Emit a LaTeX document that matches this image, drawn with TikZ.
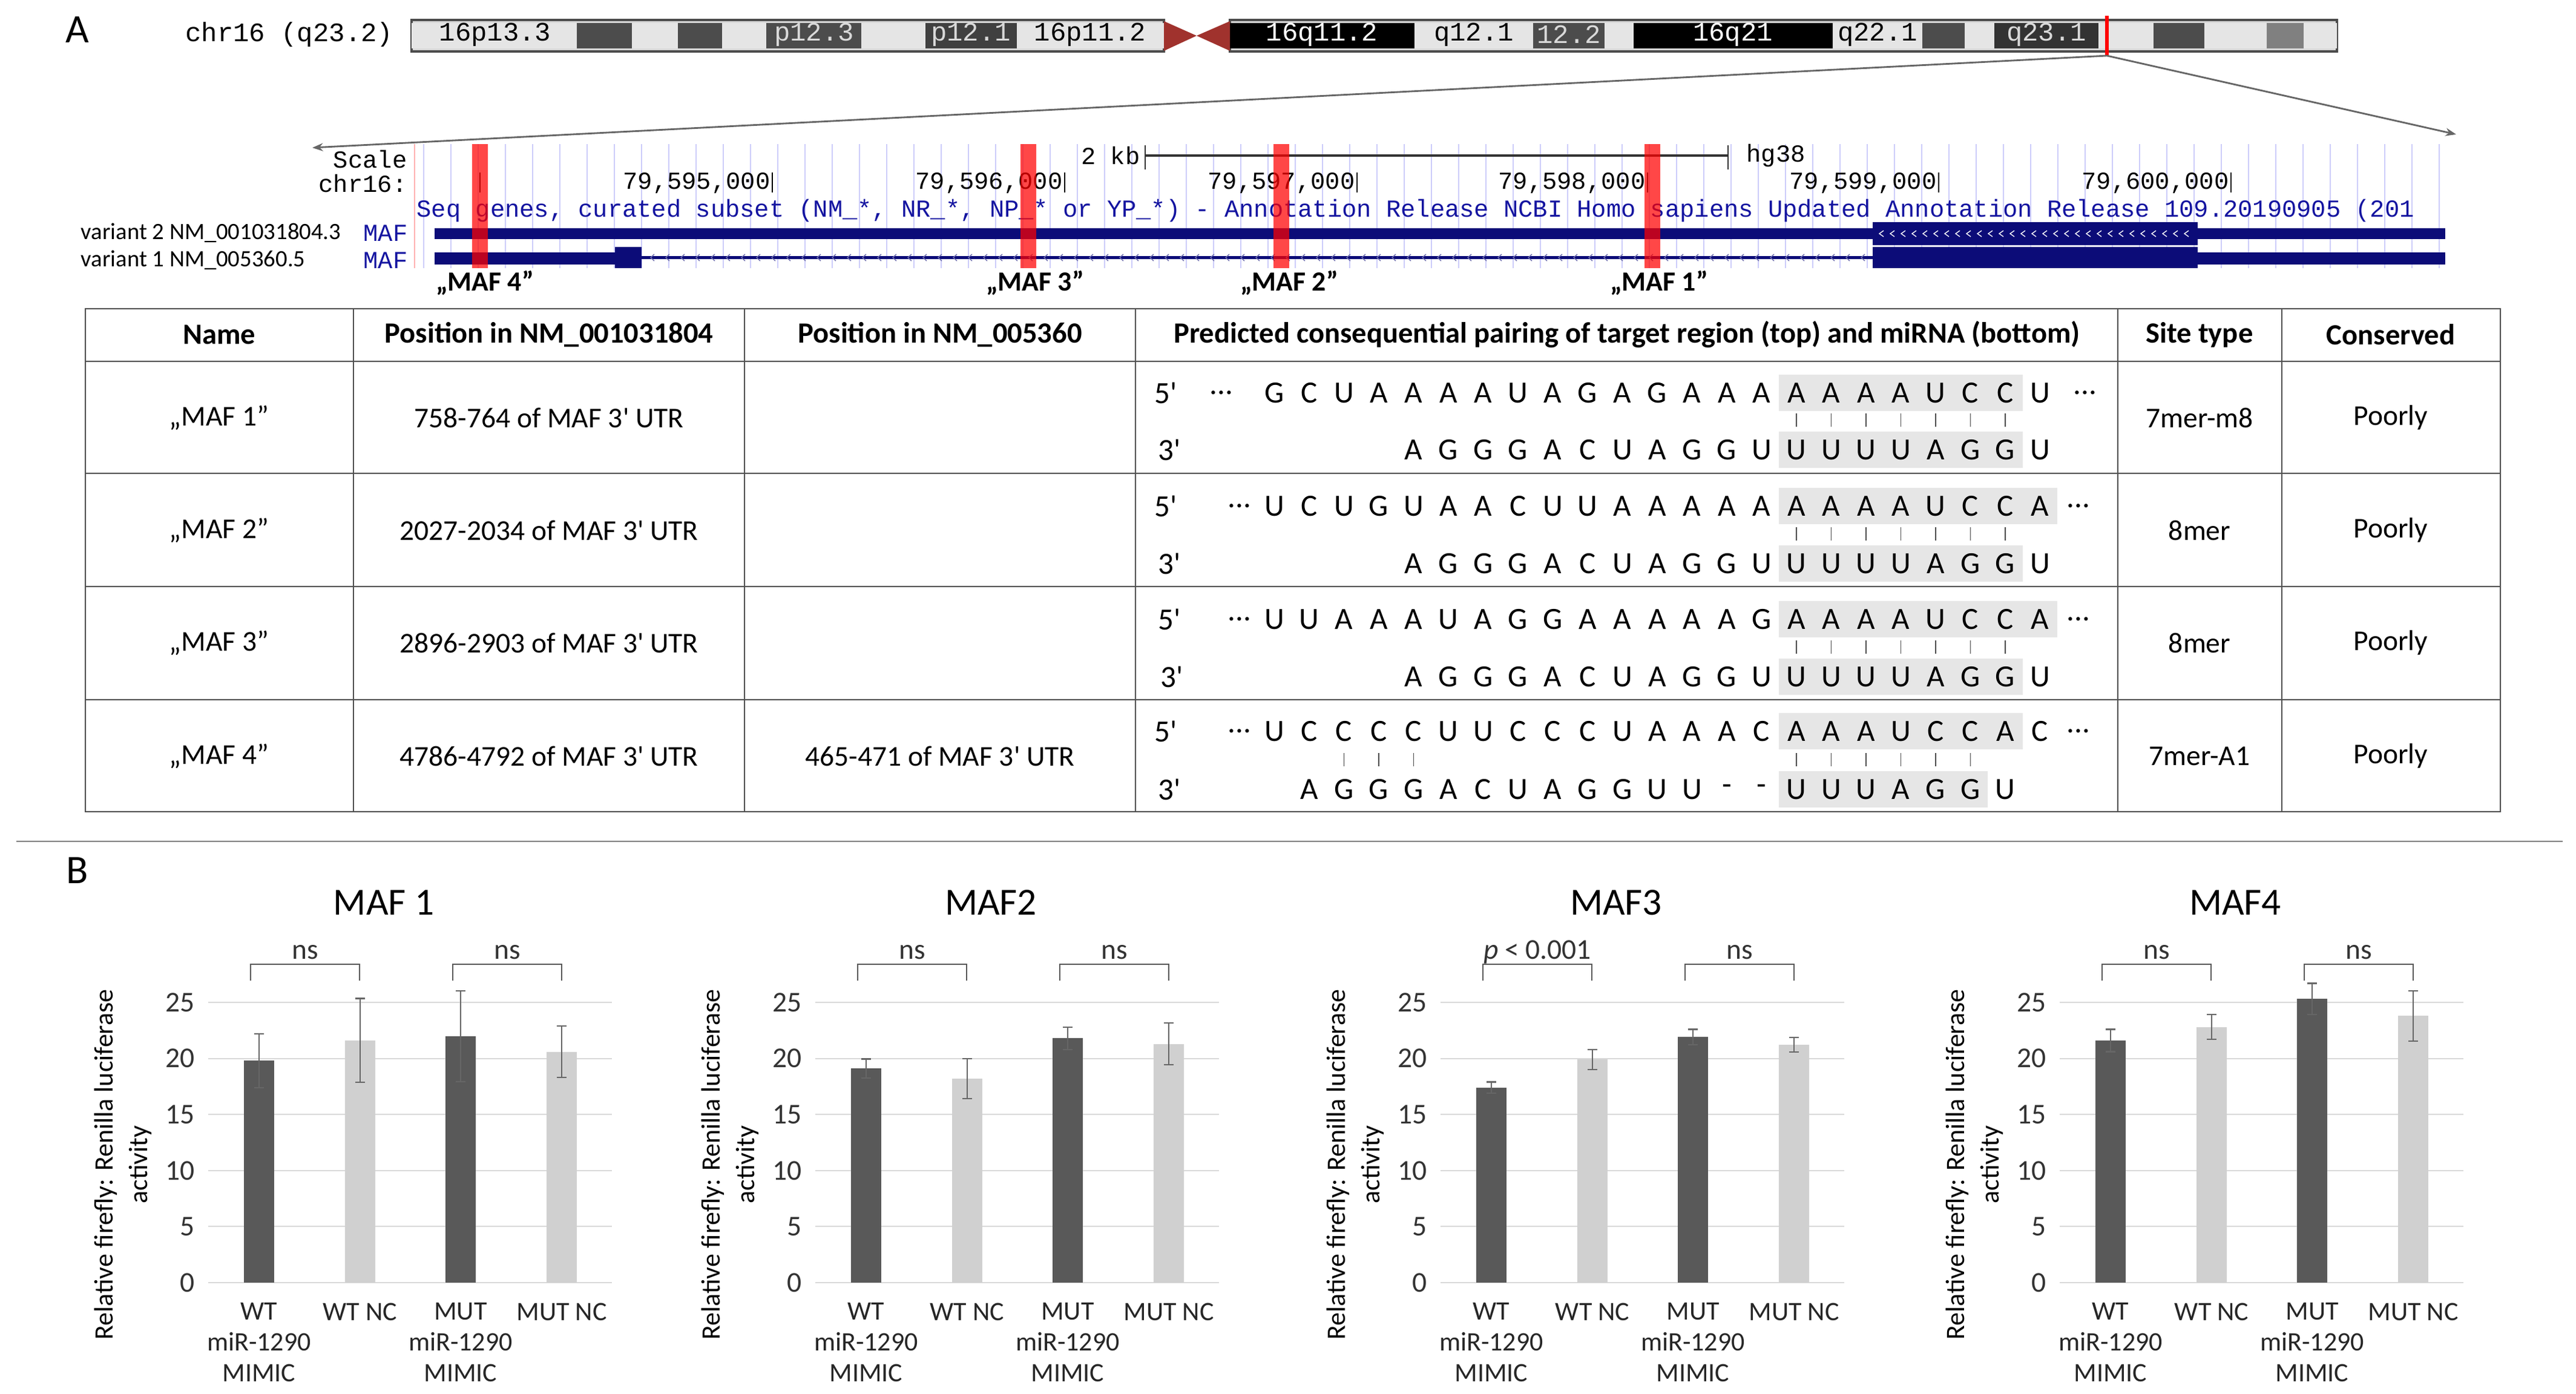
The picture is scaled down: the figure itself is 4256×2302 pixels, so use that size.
\documentclass[tikz,border=0pt]{standalone}
\usepackage{fontspec}
\setmainfont{Carlito}
\newfontfamily\ucsc{Liberation Mono}
\usetikzlibrary{arrows.meta}
\definecolor{navyb}{RGB}{12,12,120}
\definecolor{ucblue}{RGB}{20,20,160}
\definecolor{gridb}{RGB}{205,205,250}
\definecolor{bardark}{RGB}{89,89,89}
\definecolor{barlight}{RGB}{208,208,208}
\definecolor{gline}{RGB}{217,217,217}
\definecolor{tabline}{RGB}{80,80,80}
\definecolor{hlc}{RGB}{230,230,230}
\definecolor{centro}{RGB}{160,50,45}
\newcommand\fsz[1]{\fontsize{#1}{#1}\selectfont}
\newcommand\pr{\textquotesingle}
\newcommand\seqlet[3]{\foreach \ch [count=\i from 0] in {#3} {\node[seqc] at ({2968+57.5*(#2+\i)},#1) {\ch};}}
\newcommand\seqbars[2]{\foreach \c in {#2} {\draw[pairc] ({2968+57.5*\c},#1-11) -- ++(0,22);}}
\newcommand\hlbox[2]{\fill[hlc] ({2968-28.75},#1-30) rectangle ({2968+57.5*(#2-0.5)},#1+30);}
\tikzset{
  seqc/.style={inner sep=0pt,font=\fsz{14.5}},
  pairc/.style={draw=black!70,line width=0.5pt},
  tab/.style={draw=tabline,line width=0.7pt},
  cell/.style={inner sep=0pt,font=\fsz{13.5},align=center},
  hdr/.style={inner sep=0pt,font=\fsz{13.8}\bfseries},
  band/.style={inner sep=0pt,font=\ucsc\fsz{12.5}},
  brow/.style={inner sep=0pt,font=\ucsc\fsz{11.5}},
  grd/.style={draw=gline,line width=0.6pt},
  tickl/.style={inner sep=0pt,anchor=east,font=\fsz{13.5},text=black!80},
  err/.style={draw=black!60,line width=0.6pt},
  brk/.style={draw=black!65,line width=0.6pt},
  xl/.style={inner sep=0pt,anchor=north,align=center,font=\fontsize{12.5}{14.5}\selectfont,text=black!85},
}
\begin{document}
\begin{tikzpicture}[x=0.01cm,y=-0.01cm]
\useasboundingbox (0,0) rectangle (4256,2302);
\fill[white] (0,0) rectangle (4256,2302);
% ---------- A label
\node[font=\fsz{19}] (labA) at (128,49) {A};
\node[band,anchor=east] (chrlab) at (650,57) {chr16 (q23.2)};
% ---------- ideogram
\draw[black!70,line width=1.2pt,fill=black!15] (680,33) rectangle (1923,85);
\draw[black!70,line width=1.2pt,fill=black!15] (2032,33) rectangle (3861,85);
\foreach \a/\b/\c in {680/953/black!10,953/1044/black!70,1044/1120/black!10,1120/1193/black!70,1193/1266/black!10,1266/1423/black!70,1423/1529/black!10,1529/1680/black!75,1680/1923/black!10,2032/2337/black,2337/2533/black!10,2533/2651/black!70,2651/2699/black!10,2699/3028/black,3028/3176/black!10,3176/3246/black!70,3246/3295/black!10,3295/3467/black!80,3467/3558/black!10,3558/3642/black!70,3642/3745/black!10,3745/3806/black!50,3806/3861/black!10}
  {\fill[\c] (\a,38) rectangle (\b,80);}
\fill[centro] (1923,35) -- (1977,59) -- (1923,84) -- cycle;
\fill[centro] (2032,35) -- (1977,59) -- (2032,84) -- cycle;
\node[band] at (818,57) {16p13.3};
\node[band,text=white!85!black] at (1345,57) {p12.3};
\node[band,text=white!85!black] at (1604,57) {p12.1};
\node[band] at (1801,57) {16p11.2};
\node[band,text=white] at (2184,57) {16q11.2};
\node[band] at (2435,57) {q12.1};
\node[band,text=white!85!black] at (2592,57) {12.2};
\node[band,text=white] at (2863,57) {16q21};
\node[band] at (3102,57) {q22.1};
\node[band,text=white!85!black] at (3381,57) {q23.1};
\coordinate (mark) at (3481,92);
\draw[red,line width=1.6pt] (3481,26) -- (mark);
\coordinate (zl) at (516,244);
\coordinate (zr) at (4058,222);
\draw[black!60,line width=0.8pt,-{Stealth[length=5pt]}] (mark) -- (zl);
\draw[black!60,line width=0.8pt,-{Stealth[length=5pt]}] (mark) -- (zr);
% ---------- browser
\foreach \gx in {700,745,...,4040} {\draw[gridb,line width=0.4pt] (\gx,238) -- (\gx,443);}
\draw[red!30,line width=0.5pt] (685,238) -- (685,443);
\node[brow,anchor=east] (scl) at (673,263) {Scale};
\node[brow,anchor=east] (chrc) at (673,303) {chr16:};
\node[brow,anchor=east] (kb) at (1884,257) {2 kb};
\coordinate (sb1) at (1892,257); \coordinate (sb2) at (2855,257);
\draw[black!80,line width=1.2pt] (sb1) -- (sb2);
\draw[black!80,line width=0.8pt] (1892,240) -- (1892,280) (2855,240) -- (2855,280);
\node[brow,anchor=west] (hg) at (2885,257) {hg38};
\draw[black,line width=0.8pt] (793,285) -- (793,318);
\foreach \tx/\lab in {1276/{79,595,000},1759/{79,596,000},2242/{79,597,000},2722/{79,598,000},3203/{79,599,000},3686/{79,600,000}}
  {\node[brow,anchor=east] at (\tx-3,303) {\lab}; \draw[black,line width=0.8pt] (\tx,285) -- (\tx,318);}
\begin{scope}
\clip (686,320) rectangle (4045,370);
\node[brow,anchor=west,text=ucblue] (genes) at (688,348) {Seq genes, curated subset (NM\_*, NR\_*, NP\_* or YP\_*) - Annotation Release NCBI Homo sapiens Updated Annotation Release 109.20190905 (201};
\end{scope}
\node[inner sep=0pt,anchor=west,font=\fsz{11}] (v2) at (133,385) {variant 2 NM\_001031804.3};
\node[inner sep=0pt,anchor=west,font=\fsz{11}] (v1) at (133,430) {variant 1 NM\_005360.5};
\node[brow,anchor=west,text=ucblue] (m2) at (600,385) {MAF};
\node[brow,anchor=west,text=ucblue] (m1) at (600,430) {MAF};
% variant 2
\fill[navyb] (718,377) rectangle (4040,395);
\fill[navyb] (3094,367) rectangle (3631,405);
\foreach \cx in {3105,3123,...,3615} {\draw[white,line width=0.4pt] (\cx+7,381) -- (\cx,386) -- (\cx+7,391);}
% variant 1
\fill[navyb] (718,417) rectangle (1016,437);
\fill[navyb] (1016,408) rectangle (1060,443);
\fill[navyb] (1060,423) rectangle (3094,428);
\foreach \cx in {1075,1100,...,3075} {\draw[navyb!60,line width=0.4pt] (\cx+6,420) -- (\cx,425.5) -- (\cx+6,431);}
\fill[navyb] (3094,408) rectangle (3631,443);
\fill[navyb] (3631,417) rectangle (4040,437);
% red sites
\foreach \rx in {793,1699,2117,2730} {\fill[red,opacity=0.72] (\rx-13,238) rectangle (\rx+13,443);}
\node[inner sep=0pt,font=\fsz{13}\bfseries] (s4) at (801,467) {„MAF 4”};
\node[inner sep=0pt,font=\fsz{13}\bfseries] (s3) at (1710,467) {„MAF 3”};
\node[inner sep=0pt,font=\fsz{13}\bfseries] (s2) at (2130,467) {„MAF 2”};
\node[inner sep=0pt,font=\fsz{13}\bfseries] (s1) at (2741,467) {„MAF 1”};
% ---------- table
\draw[tab] (141,510) rectangle (4131,1341);
\foreach \ty in {597,782,969,1156} {\draw[tab] (141,\ty) -- (4131,\ty);}
\foreach \tx in {584,1230,1876,3499,3770} {\draw[tab] (\tx,510) -- (\tx,1341);}
\node[hdr] (h1) at (362,553) {Name};
\node[hdr] (h2) at (907,553) {Position in NM\_001031804};
\node[hdr] (h3) at (1553,553) {Position in NM\_005360};
\node[hdr] (h4) at (2688,553) {Predicted consequential pairing of target region (top) and miRNA (bottom)};
\node[hdr] (h5) at (3634,553) {Site type};
\node[hdr] (h6) at (3950,553) {Conserved};
\foreach \ry/\nm/\pa/\pb/\st in {690/{„MAF 1”}/{758-764 of MAF 3\pr{} UTR}/{}/7mer-m8,876/{„MAF 2”}/{2027-2034 of MAF 3\pr{} UTR}/{}/8mer,1062/{„MAF 3”}/{2896-2903 of MAF 3\pr{} UTR}/{}/8mer,1249/{„MAF 4”}/{4786-4792 of MAF 3\pr{} UTR}/{465-471 of MAF 3\pr{} UTR}/7mer-A1}
{
  \node[cell] at (362,\ry) {\nm};
  \node[cell] at (907,\ry) {\pa};
  \node[cell] at (1553,\ry) {\pb};
  \node[cell] at (3634,\ry) {\st};
  \node[cell] at (3950,\ry) {Poorly};
}
% sequences
% row 1
\hlbox{649}{7}\hlbox{743}{7}
\node[seqc] at (1926,649) {5\pr}; \node[seqc] at (1932,743) {3\pr};
\node[seqc] at (2018,649) {...};
\seqlet{649}{-15}{G,C,U,A,A,A,A,U,A,G,A,G,A,A,A,A,A,A,A,U,C,C,U}
\node[seqc] at ({2968+57.5*8.3},649) {...};
\seqbars{694}{0,...,6}
\seqlet{743}{-11}{A,G,G,G,A,C,U,A,G,G,U,U,U,U,U,A,G,G,U}
% row 2
\hlbox{836}{8}\hlbox{931}{7}
\node[seqc] at (1926,836) {5\pr}; \node[seqc] at (1932,931) {3\pr};
\node[seqc] at ({2968-57.5*16},836) {...};
\seqlet{836}{-15}{U,C,U,G,U,A,A,C,U,U,A,A,A,A,A,A,A,A,A,U,C,C,A}
\node[seqc] at ({2968+57.5*8.1},836) {...};
\seqbars{882}{0,...,6}
\seqlet{931}{-11}{A,G,G,G,A,C,U,A,G,G,U,U,U,U,U,A,G,G,U}
% row 3
\hlbox{1023}{8}\hlbox{1118}{7}
\node[seqc] at (1932,1023) {5\pr}; \node[seqc] at (1936,1118) {3\pr};
\node[seqc] at ({2968-57.5*16},1023) {...};
\seqlet{1023}{-15}{U,U,A,A,A,U,A,G,G,A,A,A,A,A,G,A,A,A,A,U,C,C,A}
\node[seqc] at ({2968+57.5*8.1},1023) {...};
\seqbars{1069}{0,...,6}
\seqlet{1118}{-11}{A,G,G,G,A,C,U,A,G,G,U,U,U,U,U,A,G,G,U}
% row 4
\hlbox{1208}{7}\hlbox{1304}{6}
\node[seqc] at (1926,1208) {5\pr}; \node[seqc] at (1932,1304) {3\pr};
\node[seqc] at ({2968-57.5*16},1208) {...};
\seqlet{1208}{-15}{U,C,C,C,C,U,U,C,C,C,U,A,A,A,C,A,A,A,U,C,C,A,C}
\node[seqc] at ({2968+57.5*8.1},1208) {...};
\seqbars{1255}{-13,-12,-11,0,1,2,3,4,5}
\seqlet{1304}{-14}{A,G,G,G,A,C,U,A,G,G,U,U,-,-,U,U,U,A,G,G,U}
% ---------- part B
\draw[black!50,line width=0.7pt] (27,1390) -- (4234,1390);
\node[font=\fsz{19}] (labB) at (128,1438) {B};
\foreach \ox/\ttl/\la/\va/\ea/\vb/\eb/\vc/\ec/\vd/\ed in {
 344/{MAF 1}/ns/19.8/2.4/21.6/3.75/22.0/4.05/20.6/2.3,
 1347/MAF2/ns/19.1/0.85/18.2/1.8/21.8/1.0/21.3/1.85,
 2380/MAF3/{\textit{p} < 0.001}/17.4/0.5/19.9/0.9/21.9/0.7/21.2/0.65,
 3403/MAF4/ns/21.6/1.0/22.8/1.1/25.3/1.4/23.8/2.25}
{
 \foreach \g in {0,5,...,25} {
   \draw[grd] (\ox,{2119-18.52*\g}) -- ++(667,0);
   \node[tickl] at (\ox-22,{2119-18.52*\g}) {\g};
 }
 \foreach \bx/\v/\e/\c in {84/\va/\ea/bardark,251/\vb/\eb/barlight,417/\vc/\ec/bardark,584/\vd/\ed/barlight} {
   \fill[\c] (\ox+\bx-25,2119) rectangle (\ox+\bx+25,{2119-18.52*\v});
   \draw[err] (\ox+\bx,{2119-18.52*(\v-\e)}) -- (\ox+\bx,{2119-18.52*(\v+\e)});
   \draw[err] (\ox+\bx-8,{2119-18.52*(\v-\e)}) -- ++(16,0);
   \draw[err] (\ox+\bx-8,{2119-18.52*(\v+\e)}) -- ++(16,0);
 }
 \node[inner sep=0pt,font=\fsz{18}] at (\ox+290,1491) {\ttl};
 \draw[brk] (\ox+70,1620) -- ++(0,-27) -- ++(180,0) -- ++(0,27);
 \draw[brk] (\ox+404,1620) -- ++(0,-27) -- ++(180,0) -- ++(0,27);
 \node[inner sep=0pt,font=\fsz{13.5},text=black!80] at (\ox+160,1573) {\la};
 \node[inner sep=0pt,font=\fsz{13.5},text=black!80] at (\ox+494,1573) {ns};
 \node[xl] at (\ox+84,2152) {WT\\miR-1290\\MIMIC};
 \node[xl] at (\ox+251,2152) {WT NC};
 \node[xl] at (\ox+417,2152) {MUT\\miR-1290\\MIMIC};
 \node[xl] at (\ox+584,2152) {MUT NC};
 \node[inner sep=0pt,rotate=90,font=\fsz{12.5}] at (\ox-169,1924) {Relative firefly: Renilla luciferase};
 \node[inner sep=0pt,rotate=90,font=\fsz{12.5}] at (\ox-112,1924) {activity};
}
\end{tikzpicture}
\end{document}
